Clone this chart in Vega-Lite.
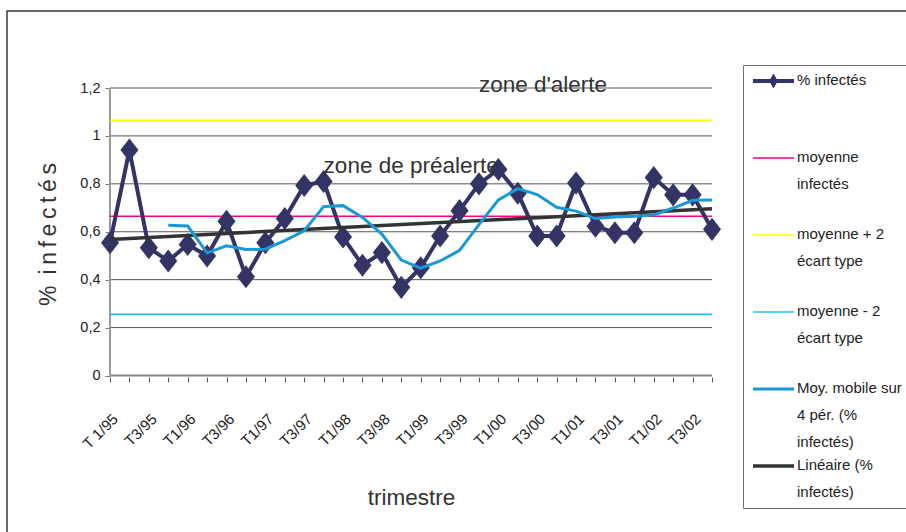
{
  "$schema": "https://vega.github.io/schema/vega-lite/v6.json",
  "width": 899,
  "height": 521,
  "autosize": "none",
  "padding": {"left": 7, "top": 11, "right": 0, "bottom": 0},
  "background": "#ffffff",
  "config": {"view": {"stroke": "#3a3a3a", "strokeWidth": 1.5, "strokeDash": [899, 1420, 521], "fill": "#ffffff"}, "font": "Liberation Sans"},
  "datasets": {
    "q": [
      {"t": "T 1/95", "pct": 0.554, "moy": 0.665, "sup": 1.065, "inf": 0.255, "mm": null, "lin": 0.568},
      {"t": "T2/95", "pct": 0.941, "moy": 0.665, "sup": 1.065, "inf": 0.255, "mm": null, "lin": null},
      {"t": "T3/95", "pct": 0.533, "moy": 0.665, "sup": 1.065, "inf": 0.255, "mm": null, "lin": null},
      {"t": "T4/95", "pct": 0.478, "moy": 0.665, "sup": 1.065, "inf": 0.255, "mm": 0.627, "lin": null},
      {"t": "T1/96", "pct": 0.547, "moy": 0.665, "sup": 1.065, "inf": 0.255, "mm": 0.624, "lin": null},
      {"t": "T2/96", "pct": 0.499, "moy": 0.665, "sup": 1.065, "inf": 0.255, "mm": 0.512, "lin": null},
      {"t": "T3/96", "pct": 0.644, "moy": 0.665, "sup": 1.065, "inf": 0.255, "mm": 0.541, "lin": null},
      {"t": "T4/96", "pct": 0.412, "moy": 0.665, "sup": 1.065, "inf": 0.255, "mm": 0.526, "lin": null},
      {"t": "T1/97", "pct": 0.554, "moy": 0.665, "sup": 1.065, "inf": 0.255, "mm": 0.527, "lin": null},
      {"t": "T2/97", "pct": 0.655, "moy": 0.665, "sup": 1.065, "inf": 0.255, "mm": 0.563, "lin": null},
      {"t": "T3/97", "pct": 0.793, "moy": 0.665, "sup": 1.065, "inf": 0.255, "mm": 0.604, "lin": null},
      {"t": "T4/97", "pct": 0.81, "moy": 0.665, "sup": 1.065, "inf": 0.255, "mm": 0.705, "lin": null},
      {"t": "T1/98", "pct": 0.578, "moy": 0.665, "sup": 1.065, "inf": 0.255, "mm": 0.709, "lin": null},
      {"t": "T2/98", "pct": 0.46, "moy": 0.665, "sup": 1.065, "inf": 0.255, "mm": 0.66, "lin": null},
      {"t": "T3/98", "pct": 0.513, "moy": 0.665, "sup": 1.065, "inf": 0.255, "mm": 0.59, "lin": null},
      {"t": "T4/98", "pct": 0.368, "moy": 0.665, "sup": 1.065, "inf": 0.255, "mm": 0.482, "lin": null},
      {"t": "T1/99", "pct": 0.45, "moy": 0.665, "sup": 1.065, "inf": 0.255, "mm": 0.448, "lin": null},
      {"t": "T2/99", "pct": 0.582, "moy": 0.665, "sup": 1.065, "inf": 0.255, "mm": 0.478, "lin": null},
      {"t": "T3/99", "pct": 0.688, "moy": 0.665, "sup": 1.065, "inf": 0.255, "mm": 0.522, "lin": null},
      {"t": "T4/99", "pct": 0.8, "moy": 0.665, "sup": 1.065, "inf": 0.255, "mm": 0.63, "lin": null},
      {"t": "T1/00", "pct": 0.86, "moy": 0.665, "sup": 1.065, "inf": 0.255, "mm": 0.733, "lin": null},
      {"t": "T2/00", "pct": 0.761, "moy": 0.665, "sup": 1.065, "inf": 0.255, "mm": 0.78, "lin": null},
      {"t": "T3/00", "pct": 0.582, "moy": 0.665, "sup": 1.065, "inf": 0.255, "mm": 0.755, "lin": null},
      {"t": "T4/00", "pct": 0.582, "moy": 0.665, "sup": 1.065, "inf": 0.255, "mm": 0.702, "lin": null},
      {"t": "T1/01", "pct": 0.803, "moy": 0.665, "sup": 1.065, "inf": 0.255, "mm": 0.686, "lin": null},
      {"t": "T2/01", "pct": 0.623, "moy": 0.665, "sup": 1.065, "inf": 0.255, "mm": 0.655, "lin": null},
      {"t": "T3/01", "pct": 0.596, "moy": 0.665, "sup": 1.065, "inf": 0.255, "mm": 0.662, "lin": null},
      {"t": "T4/01", "pct": 0.596, "moy": 0.665, "sup": 1.065, "inf": 0.255, "mm": 0.665, "lin": null},
      {"t": "T1/02", "pct": 0.826, "moy": 0.665, "sup": 1.065, "inf": 0.255, "mm": 0.67, "lin": null},
      {"t": "T2/02", "pct": 0.754, "moy": 0.665, "sup": 1.065, "inf": 0.255, "mm": 0.699, "lin": null},
      {"t": "T3/02", "pct": 0.754, "moy": 0.665, "sup": 1.065, "inf": 0.255, "mm": 0.731, "lin": null},
      {"t": "T4/02", "pct": 0.61, "moy": 0.665, "sup": 1.065, "inf": 0.255, "mm": 0.733, "lin": 0.696}
    ],
    "notes": [
      {"t": "T4/99", "v": 1.185, "label": "zone d'alerte"},
      {"t": "T4/97", "v": 0.847, "label": "zone de préalerte"}
    ],
    "grid": [{"g": 0.2}, {"g": 0.4}, {"g": 0.6}, {"g": 0.8}, {"g": 1}, {"g": 1.2}],
    "xaxis": [{"g": 0}],
    "yaxis": [{"lo": 0, "hi": 1.2}]
  },
  "encoding": {
    "x": {
      "field": "t", "type": "ordinal",
      "scale": {"type": "point", "padding": 0, "range": [103, 705], "domain": ["T 1/95","T2/95","T3/95","T4/95","T1/96","T2/96","T3/96","T4/96","T1/97","T2/97","T3/97","T4/97","T1/98","T2/98","T3/98","T4/98","T1/99","T2/99","T3/99","T4/99","T1/00","T2/00","T3/00","T4/00","T1/01","T2/01","T3/01","T4/01","T1/02","T2/02","T3/02","T4/02"]},
      "axis": {
        "offset": -155,
        "labelExpr": "test(regexp('^T ?[13]/'), datum.value) ? datum.value : ''",
        "labelAngle": -45, "labelAlign": "right", "labelBaseline": "top",
        "labelFontSize": 15, "labelColor": "#222222", "labelPadding": 29, "labelOverlap": false,
        "tickSize": 5, "tickColor": "#555555", "domain": false,
        "grid": false,
        "title": "trimestre", "titleFontSize": 22.5, "titleFontWeight": "normal", "titleColor": "#333333",
        "titleX": 404, "titleY": 127, "titleBaseline": "alphabetic", "titleAlign": "center"
      }
    },
    "y": {
      "field": "v", "type": "quantitative",
      "scale": {"domain": [0, 1.2], "nice": false, "range": [364.5, 77]},
      "axis": {
        "offset": -103,
        "values": [0, 0.2, 0.4, 0.6, 0.8, 1, 1.2],
        "labelExpr": "replace(format(datum.value, '~g'), '.', ',')",
        "labelFontSize": 14.5, "labelColor": "#222222", "labelPadding": 5,
        "grid": false, "domain": false,
        "tickColor": "#777777", "tickSize": 5,
        "title": "% \u2009i\u2009n\u2009f\u2009e\u2009c\u2009t\u2009é\u2009s",
        "titleFontSize": 23, "titleFontWeight": "normal", "titleColor": "#333333",
        "titleAngle": -90, "titleX": -62, "titleY": 223, "titleAlign": "center", "titleBaseline": "middle"
      }
    },
    "stroke": {
      "field": "key", "type": "nominal",
      "scale": {"domain": ["pct","moy","sup","inf","mm","lin"], "range": ["#333366","#FF0080","#FFFF00","#1EC0F0","#1A98D5","#333333"]},
      "legend": {
        "orient": "none", "legendX": 736, "legendY": 54, "title": null,
        "strokeColor": "#6e6e6e", "fillColor": "#ffffff", "padding": 8,
        "symbolType": "stroke", "symbolSize": 1681, "symbolStrokeWidth": 3, "symbolFillColor": "#333366",
        "labelFont": "Liberation Sans", "labelFontSize": 15, "labelColor": "#222222",
        "labelBaseline": "top", "labelOffset": 1, "labelLimit": 0, "rowPadding": 8,
        "labelExpr": "datum.label == 'pct' ? ['%  infectés','',''] : datum.label == 'moy' ? ['moyenne','infectés',''] : datum.label == 'sup' ? ['moyenne + 2','écart type',''] : datum.label == 'inf' ? ['moyenne - 2','écart type',''] : datum.label == 'mm' ? ['Moy. mobile sur','4 pér. (%','infectés)'] : ['Linéaire (%','infectés)']",
        "encode": {
          "symbols": {
            "update": {
              "y": {"value": 8},
              "shape": {"signal": "datum.value == 'pct' ? 'M-1,0H1M0,-0.17L0.1,0L0,0.17L-0.1,0Z' : 'stroke'"},
              "strokeWidth": {"signal": "datum.value == 'pct' ? 4 : datum.value == 'mm' ? 3 : datum.value == 'lin' ? 3.5 : 2"}
            }
          },
          "labels": {
            "update": {
              "y": {"value": 8},
              "lineHeight": {"value": 27},
              "dy": {"value": -8}
            }
          }
        }
      }
    },
    "strokeWidth": {
      "field": "key", "type": "nominal",
      "scale": {"type": "ordinal", "domain": ["pct","moy","sup","inf","mm","lin"], "range": [4, 1.6, 1.6, 1.6, 3, 3.5]},
      "legend": null
    }
  },
  "layer": [
    {
      "data": {"name": "grid"},
      "mark": {"type": "rule"},
      "encoding": {
        "x": {"datum": "T 1/95", "type": "ordinal"},
        "x2": {"datum": "T4/02"},
        "y": {"field": "g", "type": "quantitative"},
        "stroke": {"value": "#555555"},
        "strokeWidth": {"value": 1}
      }
    },
    {
      "data": {"name": "yaxis"},
      "mark": {"type": "rule"},
      "encoding": {
        "x": {"datum": "T 1/95", "type": "ordinal"},
        "y": {"field": "lo", "type": "quantitative"},
        "y2": {"field": "hi"},
        "stroke": {"value": "#999999"},
        "strokeWidth": {"value": 2}
      }
    },
    {
      "data": {"name": "q"},
      "transform": [
        {"fold": ["moy", "sup", "inf"], "as": ["key", "v"]}
      ],
      "mark": {"type": "line"}
    },
    {
      "data": {"name": "xaxis"},
      "mark": {"type": "rule"},
      "encoding": {
        "x": {"datum": "T 1/95", "type": "ordinal"},
        "x2": {"datum": "T4/02"},
        "y": {"field": "g", "type": "quantitative"},
        "stroke": {"value": "#888888"},
        "strokeWidth": {"value": 2}
      }
    },
    {
      "data": {"name": "q"},
      "transform": [
        {"fold": ["pct"], "as": ["key", "v"]}
      ],
      "mark": {"type": "line"}
    },
    {
      "data": {"name": "q"},
      "transform": [
        {"fold": ["pct"], "as": ["key", "v"]}
      ],
      "mark": {"type": "point", "filled": true, "fill": "#333366", "opacity": 1, "size": 441, "shape": "M0,-1.1L0.86,0L0,1.1L-0.86,0Z"},
      "encoding": {"stroke": {"value": null}, "strokeWidth": {"value": 0}}
    },
    {
      "data": {"name": "q"},
      "transform": [
        {"fold": ["mm", "lin"], "as": ["key", "v"]},
        {"filter": "datum.v != null"}
      ],
      "mark": {"type": "line"}
    },
    {
      "data": {"name": "notes"},
      "mark": {"type": "text", "align": "left", "baseline": "alphabetic", "fontSize": 22.5, "color": "#333333"},
      "encoding": {"text": {"field": "label"}, "stroke": {"value": null}, "strokeWidth": {"value": 0}}
    }
  ]
}
